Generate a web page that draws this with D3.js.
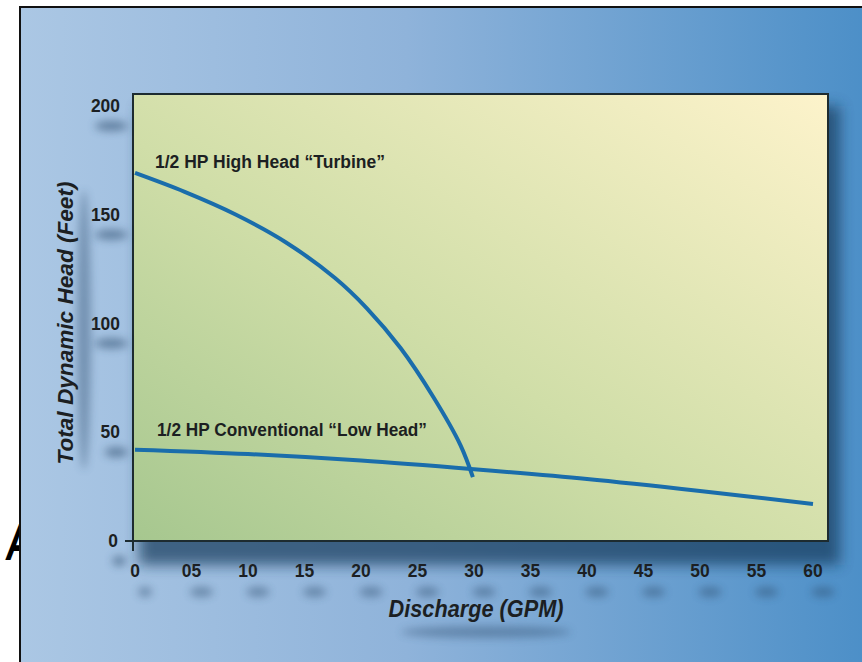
<!DOCTYPE html>
<html>
<head>
<meta charset="utf-8">
<script src="https://cdn.jsdelivr.net/npm/d3@7"></script>
<style>
  html, body { margin: 0; padding: 0; background: #fff; }
  svg { display: block; }
  .lbl { font-family: "Liberation Sans", Arial, sans-serif; font-weight: bold; fill: #1c1f22; }
</style>
</head>
<body>
<div id="chart"></div>
<script>
/* ================= Data ================= */

const xTicks = [0, 5, 10, 15, 20, 25, 30, 35, 40, 45, 50, 55, 60];
const xTickLabels = ["0", "05", "10", "15", "20", "25", "30", "35", "40", "45", "50", "55", "60"];
const yTicks = [0, 50, 100, 150, 200];

// 1/2 HP High Head "Turbine"
const turbineGpm  = [0, 4.4, 8.9, 13.3, 17.7, 20.5, 23.5, 26.4, 28.8, 29.9];
const turbineHead = [169.2, 160.5, 150.1, 137.5, 120.9, 107.1, 88.7, 66.2, 44.1, 29.4];

// 1/2 HP Conventional "Low Head"
const lowGpm  = [0, 10, 20, 30, 40, 50, 60];
const lowHead = [42, 40, 37, 33, 28.5, 23, 17];

const seriesLabels = ["1/2 HP High Head \u201CTurbine\u201D", "1/2 HP Conventional \u201CLow Head\u201D"];

/* ================= Setup ================= */

const W = 862, H = 662;
const svg = d3.select("#chart").append("svg").attr("width", W).attr("height", H);
const defs = svg.append("defs");

const bg = defs.append("linearGradient").attr("id", "bg")
  .attr("x1", "0%").attr("y1", "0%").attr("x2", "100%").attr("y2", "0%");
bg.append("stop").attr("offset", "0%").attr("stop-color", "#abc7e4");
bg.append("stop").attr("offset", "45%").attr("stop-color", "#8fb3da");
bg.append("stop").attr("offset", "100%").attr("stop-color", "#4a8ec7");

const pg = defs.append("linearGradient").attr("id", "plotbg")
  .attr("x1", "0%").attr("y1", "100%").attr("x2", "100%").attr("y2", "0%");
pg.append("stop").attr("offset", "0%").attr("stop-color", "#a6c78f");
pg.append("stop").attr("offset", "45%").attr("stop-color", "#d0dea8");
pg.append("stop").attr("offset", "100%").attr("stop-color", "#fdf3cb");

const sh = defs.append("filter").attr("id", "shadow")
  .attr("x", "-20%").attr("y", "-20%").attr("width", "140%").attr("height", "140%");
sh.append("feGaussianBlur").attr("stdDeviation", 7);

const tsh = defs.append("filter").attr("id", "tshadow")
  .attr("x", "-100%").attr("y", "-200%").attr("width", "300%").attr("height", "500%");
tsh.append("feGaussianBlur").attr("stdDeviation", 4);

/* ================= Scales ================= */

const x = d3.scaleLinear().domain([0, 60]).range([135, 813]);
const y = d3.scaleLinear().domain([0, 200]).range([541, 106]);

const plot = { x0: 133, y0: 94, x1: 828, y1: 541 };
const charW = 9.7;

// blurred smudge under a label, like the airbrushed shadows of the original
function smudge(cx, cy, w, h, op) {
  svg.append("ellipse")
    .attr("cx", cx).attr("cy", cy).attr("rx", w / 2).attr("ry", h / 2)
    .attr("fill", "#2b4a6a").attr("opacity", op)
    .attr("filter", "url(#tshadow)");
}

/* ===== Stray letter behind the frame ===== */

svg.append("text")
  .attr("class", "lbl")
  .attr("x", 6).attr("y", 560)
  .attr("font-size", 52).attr("font-style", "italic")
  .attr("textLength", 26).attr("lengthAdjust", "spacingAndGlyphs")
  .style("fill", "#000")
  .text("A");

/* ===== Outer frame ===== */

svg.append("rect")
  .attr("x", 20).attr("y", 7)
  .attr("width", 860).attr("height", 670)
  .attr("fill", "url(#bg)")
  .attr("stroke", "#111").attr("stroke-width", 2);

/* ===== Plot shadow + panel ===== */

svg.append("rect")
  .attr("x", plot.x0 + 6).attr("y", plot.y0 + 12)
  .attr("width", plot.x1 - plot.x0 + 6).attr("height", plot.y1 - plot.y0 + 12)
  .attr("fill", "#173b5c").attr("opacity", 0.7)
  .attr("filter", "url(#shadow)");

svg.append("rect")
  .attr("x", plot.x0).attr("y", plot.y0)
  .attr("width", plot.x1 - plot.x0).attr("height", plot.y1 - plot.y0)
  .attr("fill", "url(#plotbg)")
  .attr("stroke", "#1d2b30").attr("stroke-width", 2);

/* ===== Tick labels (with soft shadows) ===== */

yTicks.forEach(d => {
  const len = String(d).length * charW;
  smudge((d === 0 ? 118 : 120) - len / 2 + 6, y(d) + 20, len + 4, 10, 0.55);
});
svg.append("g").selectAll("text").data(yTicks).enter().append("text")
  .attr("class", "lbl")
  .attr("x", d => d === 0 ? 118 : 120).attr("y", d => y(d) + 6)
  .attr("text-anchor", "end").attr("font-size", 18)
  .attr("textLength", d => String(d).length * charW)
  .attr("lengthAdjust", "spacingAndGlyphs")
  .text(d => d);

xTicks.forEach((d, i) => {
  smudge(x(d) + 10, 592, xTickLabels[i].length * charW + 4, 10, 0.45);
});
svg.append("g").selectAll("text").data(xTicks).enter().append("text")
  .attr("class", "lbl")
  .attr("x", d => x(d)).attr("y", 577)
  .attr("text-anchor", "middle").attr("font-size", 18)
  .attr("textLength", (d, i) => xTickLabels[i].length * charW)
  .attr("lengthAdjust", "spacingAndGlyphs")
  .text((d, i) => xTickLabels[i]);

/* ===== Origin tick marks ===== */

svg.append("line")
  .attr("x1", x(0) - 10).attr("x2", x(0) - 2)
  .attr("y1", y(0)).attr("y2", y(0))
  .attr("stroke", "#1d2b30").attr("stroke-width", 2);
svg.append("line")
  .attr("x1", plot.x0).attr("x2", plot.x0)
  .attr("y1", y(0)).attr("y2", y(0) + 10)
  .attr("stroke", "#1d2b30").attr("stroke-width", 2);

/* ===== Axis titles ===== */

smudge(84, 330, 14, 280, 0.4);
svg.append("text")
  .attr("class", "lbl")
  .attr("transform", "translate(73,323) rotate(-90)")
  .attr("text-anchor", "middle").attr("font-size", 22).attr("font-style", "italic")
  .attr("textLength", 283).attr("lengthAdjust", "spacingAndGlyphs")
  .text("Total Dynamic Head (Feet)");

smudge(486, 632, 170, 12, 0.4);
svg.append("text")
  .attr("class", "lbl")
  .attr("x", 476).attr("y", 617)
  .attr("text-anchor", "middle").attr("font-size", 23).attr("font-style", "italic")
  .attr("textLength", 175).attr("lengthAdjust", "spacingAndGlyphs")
  .text("Discharge (GPM)");

/* ===== Curves ===== */

const line = d3.line()
  .x(d => x(d[0]))
  .y(d => y(d[1]))
  .curve(d3.curveCatmullRom.alpha(0.5));

svg.append("path")
  .datum(turbineGpm.map((g, i) => [g, turbineHead[i]]))
  .attr("d", line)
  .attr("fill", "none").attr("stroke", "#1a6dab").attr("stroke-width", 4);

svg.append("path")
  .datum(lowGpm.map((g, i) => [g, lowHead[i]]))
  .attr("d", line)
  .attr("fill", "none").attr("stroke", "#1a6dab").attr("stroke-width", 4);

/* ===== Series labels ===== */

svg.append("text")
  .attr("class", "lbl")
  .attr("x", 155).attr("y", 168)
  .attr("font-size", 18)
  .attr("textLength", 230).attr("lengthAdjust", "spacingAndGlyphs")
  .text(seriesLabels[0]);

svg.append("text")
  .attr("class", "lbl")
  .attr("x", 157).attr("y", 436)
  .attr("font-size", 18)
  .attr("textLength", 270).attr("lengthAdjust", "spacingAndGlyphs")
  .text(seriesLabels[1]);
</script>
</body>
</html>
